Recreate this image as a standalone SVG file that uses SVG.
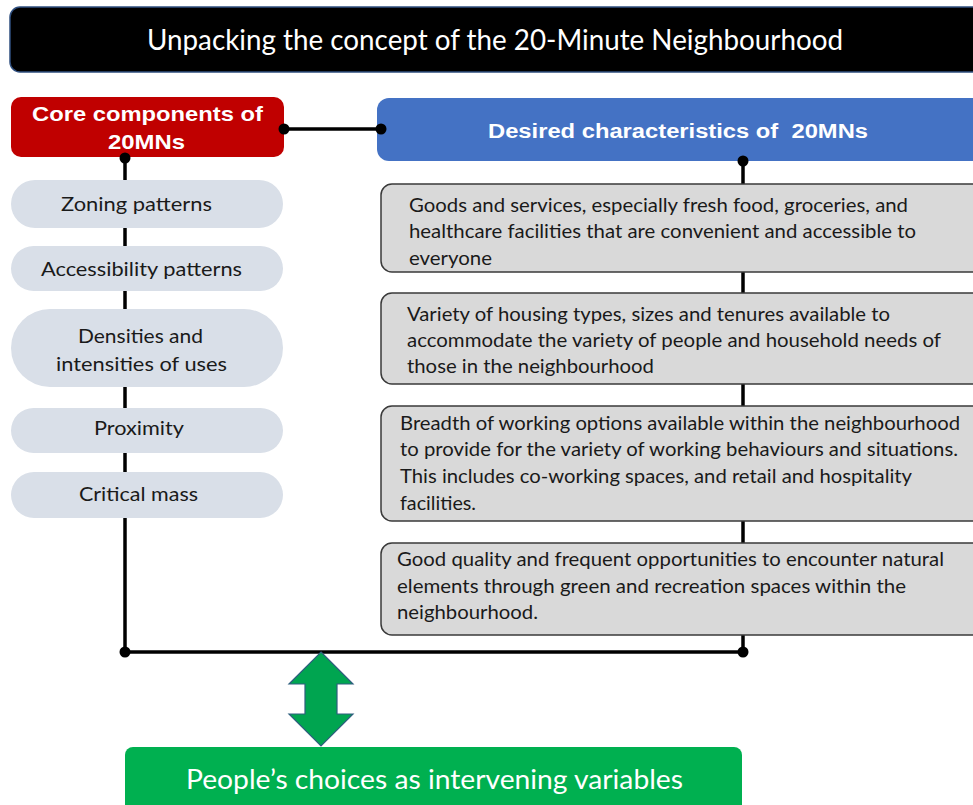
<svg xmlns="http://www.w3.org/2000/svg" width="973" height="805" viewBox="0 0 973 805">
<style>
.t{font-family:Lato,"Open Sans","Liberation Sans",sans-serif;fill:#1a1a1a}
.w{fill:#fff}
.b{font-family:"Liberation Sans",Arial,sans-serif;font-weight:bold;fill:#fff}
.pill{fill:#D9DFE8}
.card{fill:#D9D9D9;stroke:#3a3a3a;stroke-width:1.5}
.ln{stroke:#000;stroke-width:3.5;fill:none}
.dot{fill:#000}
</style>
<rect width="973" height="805" fill="#fff"/>
<g id="title">
<rect x="10" y="7" width="980" height="65" rx="10" fill="#000" stroke="#2F4F7F" stroke-width="1.5"/>
<text class="t w" x="147" y="50" font-size="28" textLength="696" lengthAdjust="spacingAndGlyphs">Unpacking the concept of the 20-Minute Neighbourhood</text>
</g>
<g id="connectors">
<line class="ln" x1="125" y1="157" x2="125" y2="652"/>
<line class="ln" x1="743" y1="161" x2="743" y2="652"/>
<line class="ln" x1="125" y1="652" x2="743" y2="652" stroke-width="4.5"/>
<line class="ln" x1="284" y1="129" x2="381" y2="129"/>
</g>
<g id="core">
<rect x="11" y="97" width="273" height="60" rx="10" fill="#C00000"/>
<text class="b" x="32" y="121" font-size="21" textLength="231" lengthAdjust="spacingAndGlyphs">Core components of</text>
<text class="b" x="108" y="149" font-size="21" textLength="77" lengthAdjust="spacingAndGlyphs">20MNs</text>
</g>
<g id="desired">
<rect x="377" y="98" width="610" height="63" rx="12" fill="#4472C4"/>
<text class="b" x="488" y="138" font-size="20" textLength="380" lengthAdjust="spacingAndGlyphs" xml:space="preserve">Desired characteristics of  20MNs</text>
</g>
<g id="zoning">
<rect class="pill" x="11" y="180" width="272" height="48" rx="24"/>
<text class="t" x="61" y="211" font-size="20" textLength="151" lengthAdjust="spacingAndGlyphs">Zoning patterns</text>
</g>
<g id="accessibility">
<rect class="pill" x="11" y="246" width="272" height="45" rx="22.5"/>
<text class="t" x="41" y="276" font-size="20" textLength="201" lengthAdjust="spacingAndGlyphs">Accessibility patterns</text>
</g>
<g id="densities">
<rect class="pill" x="11" y="309" width="272" height="78" rx="39"/>
<text class="t" x="78" y="343" font-size="20" textLength="125" lengthAdjust="spacingAndGlyphs">Densities and</text>
<text class="t" x="56" y="371" font-size="20" textLength="171" lengthAdjust="spacingAndGlyphs">intensities of uses</text>
</g>
<g id="proximity">
<rect class="pill" x="11" y="408" width="272" height="45" rx="22.5"/>
<text class="t" x="94" y="435" font-size="20" textLength="90" lengthAdjust="spacingAndGlyphs">Proximity</text>
</g>
<g id="critical">
<rect class="pill" x="11" y="472" width="272" height="46" rx="23"/>
<text class="t" x="79" y="501" font-size="20" textLength="119" lengthAdjust="spacingAndGlyphs">Critical mass</text>
</g>
<g id="goods">
<rect class="card" x="381" y="184" width="605" height="88" rx="11"/>
<text class="t" x="409" y="212" font-size="19" textLength="499" lengthAdjust="spacingAndGlyphs">Goods and services, especially fresh food, groceries, and</text>
<text class="t" x="409" y="238" font-size="19" textLength="507" lengthAdjust="spacingAndGlyphs">healthcare facilities that are convenient and accessible to</text>
<text class="t" x="409" y="265" font-size="19" textLength="83" lengthAdjust="spacingAndGlyphs">everyone</text>
</g>
<g id="housing">
<rect class="card" x="381" y="293" width="605" height="91" rx="11"/>
<text class="t" x="407" y="321" font-size="19" textLength="483" lengthAdjust="spacingAndGlyphs">Variety of housing types, sizes and tenures available to</text>
<text class="t" x="407" y="347" font-size="19" textLength="534" lengthAdjust="spacingAndGlyphs">accommodate the variety of people and household needs of</text>
<text class="t" x="407" y="373" font-size="19" textLength="247" lengthAdjust="spacingAndGlyphs">those in the neighbourhood</text>
</g>
<g id="working">
<rect class="card" x="381" y="406" width="605" height="115" rx="11"/>
<text class="t" x="400" y="430" font-size="19" textLength="560" lengthAdjust="spacingAndGlyphs">Breadth of working options available within the neighbourhood</text>
<text class="t" x="400" y="456" font-size="19" textLength="558" lengthAdjust="spacingAndGlyphs">to provide for the variety of working behaviours and situations.</text>
<text class="t" x="400" y="483" font-size="19" textLength="512" lengthAdjust="spacingAndGlyphs">This includes co-working spaces, and retail and hospitality</text>
<text class="t" x="400" y="510" font-size="19" textLength="76" lengthAdjust="spacingAndGlyphs">facilities.</text>
</g>
<g id="green">
<rect class="card" x="381" y="543" width="605" height="92" rx="11"/>
<text class="t" x="397" y="566" font-size="19" textLength="547" lengthAdjust="spacingAndGlyphs">Good quality and frequent opportunities to encounter natural</text>
<text class="t" x="397" y="593" font-size="19" textLength="509" lengthAdjust="spacingAndGlyphs">elements through green and recreation spaces within the</text>
<text class="t" x="397" y="619" font-size="19" textLength="141" lengthAdjust="spacingAndGlyphs">neighbourhood.</text>
</g>
<g id="connector-ends">
<circle class="dot" cx="284" cy="129" r="5.5"/>
<circle class="dot" cx="381" cy="129" r="5.5"/>
<circle class="dot" cx="125" cy="158" r="5.5"/>
<circle class="dot" cx="743" cy="161" r="5.5"/>
<circle class="dot" cx="125" cy="652" r="5.5"/>
<circle class="dot" cx="743" cy="652" r="5.5"/>
</g>
<g id="arrow">
<polygon points="321,652 353,684 337,684 337,714 353,714 321,746 289,714 305,714 305,684 289,684" fill="#00A550" stroke="#2E5E7E" stroke-width="1.2"/>
</g>
<g id="choices">
<rect x="125" y="747" width="617" height="70" rx="8" fill="#00B050"/>
<text class="t w" x="186" y="789" font-size="27" textLength="497" lengthAdjust="spacingAndGlyphs">People’s choices as intervening variables</text>
</g>
</svg>
